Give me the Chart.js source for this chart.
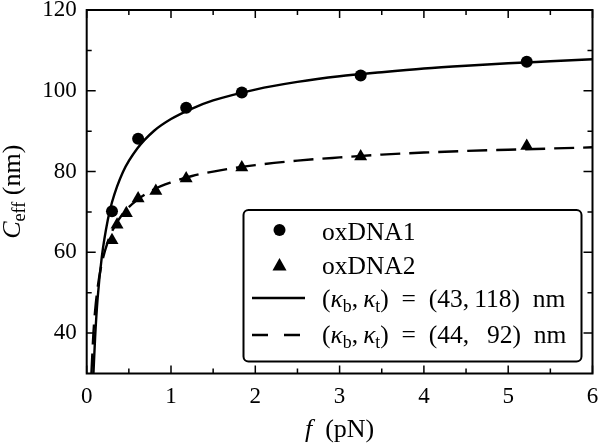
<!DOCTYPE html>
<html>
<head>
<meta charset="utf-8">
<script src="https://cdn.jsdelivr.net/npm/chart.js@4.4.1/dist/chart.umd.min.js"></script>
<style>
  html, body { margin: 0; padding: 0; background: #fff; }
  #wrap { width: 600px; height: 443px; }
</style>
</head>
<body>
<div id="wrap"><canvas id="ceffChart"></canvas></div>
<script>
// simulation points
const forceOx1 = [0.30, 0.61, 1.18, 1.84, 3.25, 5.22];
const ceffOx1  = [70.2, 88.1, 95.8, 99.6, 103.8, 107.2];
const forceOx2 = [0.30, 0.36, 0.47, 0.61, 0.82, 1.18, 1.84, 3.25, 5.22];
const ceffOx2  = [63.0, 66.8, 69.7, 73.3, 75.2, 78.3, 81.0, 83.7, 86.3];

// fitted curves, sampled from the figure
const fitForce1 = [0.08, 0.1, 0.13, 0.18, 0.25, 0.3, 0.43, 0.6, 0.8, 1.0, 1.25, 1.5, 2, 2.5, 3, 3.5, 4, 4.5, 5, 5.5, 6];
const fitCeff1  = [30, 39, 48.7, 59, 68, 72.4, 79.9, 85.7, 90.1, 93, 95.6, 97.6, 100.3, 102.2, 103.6, 104.6, 105.5, 106.2, 106.8, 107.3, 107.8];
const fitForce2 = [0.056, 0.08, 0.1, 0.13, 0.18, 0.25, 0.3, 0.43, 0.6, 0.8, 1.0, 1.25, 1.5, 2, 2.5, 3, 3.5, 4, 4.5, 5, 5.5, 6];
const fitCeff2  = [30, 40.1, 45.6, 51.3, 57.4, 62.6, 65.2, 69.6, 73, 75.6, 77.3, 78.9, 80, 81.6, 82.7, 83.5, 84.2, 84.7, 85.1, 85.4, 85.7, 86];

// axis ticks
const xTicks = [0, 1, 2, 3, 4, 5, 6];
const xMinor = [0.5, 1.5, 2.5, 3.5, 4.5, 5.5];
const yTicks = [40, 60, 80, 100, 120];
const yMinor = [50, 70, 90, 110];

const SERIF = "'Liberation Serif', 'DejaVu Serif', serif";

function pts(xs, ys) {
  return xs.map((v, i) => ({ x: v, y: ys[i] }));
}

// text with italic / subscript pieces: [text, 'r'|'i'|'s']
function richWidth(ctx, parts, size) {
  let w = 0;
  for (const [t, s] of parts) {
    ctx.font = (s === 'i' ? 'italic ' : '') + (s === 's' ? size * 0.7 : size) + 'px ' + SERIF;
    w += ctx.measureText(t).width;
  }
  return w;
}
function drawRich(ctx, parts, x, y, size) {
  for (const [t, s] of parts) {
    ctx.font = (s === 'i' ? 'italic ' : '') + (s === 's' ? size * 0.7 : size) + 'px ' + SERIF;
    ctx.fillText(t, x, s === 's' ? y + size * 0.2 : y);
    x += ctx.measureText(t).width;
  }
  return x;
}

// matplotlib-ish frame with inward ticks on all four sides
const frameTicks = {
  id: 'frameTicks',
  afterDatasetsDraw(chart) {
    const { ctx, chartArea: a, scales: { x, y } } = chart;
    ctx.save();
    ctx.strokeStyle = '#000';
    ctx.lineWidth = 1.5;
    ctx.beginPath();
    const xt = (vals, len) => vals.forEach(v => {
      const px = x.getPixelForValue(v);
      ctx.moveTo(px, a.bottom); ctx.lineTo(px, a.bottom - len);
      ctx.moveTo(px, a.top); ctx.lineTo(px, a.top + len);
    });
    const yt = (vals, len) => vals.forEach(v => {
      const py = y.getPixelForValue(v);
      ctx.moveTo(a.left, py); ctx.lineTo(a.left + len, py);
      ctx.moveTo(a.right, py); ctx.lineTo(a.right - len, py);
    });
    xt(xTicks, 8); xt(xMinor, 5);
    yt(yTicks, 9); yt(yMinor, 5);
    ctx.stroke();
    ctx.lineWidth = 2;
    ctx.strokeRect(a.left, a.top, a.right - a.left, a.bottom - a.top);
    ctx.restore();
  },
  afterDraw(chart) {
    const { ctx, chartArea: a } = chart;
    ctx.save();
    ctx.fillStyle = '#000';
    ctx.textBaseline = 'alphabetic';

    // axis titles
    const xTitle = [['f', 'i'], ['\u2002(pN)', 'r']];
    const xw = richWidth(ctx, xTitle, 26);
    drawRich(ctx, xTitle, (a.left + a.right) / 2 - xw / 2, 437, 26);

    const yTitle = [['C', 'i'], ['eff', 's'], [' (nm)', 'r']];
    const yw = richWidth(ctx, yTitle, 26);
    ctx.translate(0, (a.top + a.bottom) / 2);
    ctx.rotate(-Math.PI / 2);
    drawRich(ctx, yTitle, -yw / 2, 20, 26);
    ctx.setTransform(1, 0, 0, 1, 0, 0);

    // legend box
    ctx.fillStyle = '#fff';
    ctx.strokeStyle = '#000';
    ctx.lineWidth = 2;
    ctx.beginPath();
    ctx.roundRect(243.5, 210, 338, 151.5, 5);
    ctx.fill();
    ctx.stroke();

    ctx.fillStyle = '#000';
    ctx.beginPath();
    ctx.arc(279.5, 230, 6, 0, Math.PI * 2);
    ctx.fill();
    ctx.beginPath();
    ctx.moveTo(279.5, 258); ctx.lineTo(286.5, 270.5); ctx.lineTo(272.5, 270.5);
    ctx.closePath();
    ctx.fill();
    ctx.lineWidth = 2.4;
    ctx.beginPath();
    ctx.moveTo(252, 298); ctx.lineTo(305, 298);
    ctx.stroke();
    ctx.setLineDash([16, 16]);
    ctx.beginPath();
    ctx.moveTo(252, 335); ctx.lineTo(300, 335);
    ctx.stroke();
    ctx.setLineDash([]);

    const tx = 322, fs = 25.5;
    drawRich(ctx, [['oxDNA1', 'r']], tx, 240, fs);
    drawRich(ctx, [['oxDNA2', 'r']], tx, 273.5, fs);
    drawRich(ctx, [['(', 'r'], ['\u03BA', 'i'], ['b', 's'], [',\u2009', 'r'], ['\u03BA', 'i'], ['t', 's'],
                   [')\u2002=\u2002(43,\u2009118)\u2002nm', 'r']], tx, 307, fs);
    drawRich(ctx, [['(', 'r'], ['\u03BA', 'i'], ['b', 's'], [',\u2009', 'r'], ['\u03BA', 'i'], ['t', 's'],
                   [')\u2002=\u2002(44,\u2009\u200792)\u2002nm', 'r']], tx, 343, fs);
    ctx.restore();
  }
};

new Chart(document.getElementById('ceffChart'), {
  type: 'scatter',
  data: {
    datasets: [
      {
        label: 'oxDNA1',
        data: pts(forceOx1, ceffOx1),
        pointStyle: 'circle',
        pointRadius: 6,
        backgroundColor: '#000',
        borderColor: '#000',
        borderWidth: 0
      },
      {
        label: 'oxDNA2',
        data: pts(forceOx2, ceffOx2),
        pointStyle: 'triangle',
        pointRadius: 7.5,
        backgroundColor: '#000',
        borderColor: '#000',
        borderWidth: 0
      },
      {
        label: '(43, 118) nm',
        data: pts(fitForce1, fitCeff1),
        showLine: true,
        pointRadius: 0,
        borderColor: '#000',
        borderWidth: 2.4,
        cubicInterpolationMode: 'monotone'
      },
      {
        label: '(44, 92) nm',
        data: pts(fitForce2, fitCeff2),
        showLine: true,
        pointRadius: 0,
        borderColor: '#000',
        borderWidth: 2.4,
        borderDash: [20, 9],
        cubicInterpolationMode: 'monotone'
      }
    ]
  },
  options: {
    responsive: true,
    maintainAspectRatio: false,
    animation: false,
    layout: { padding: { top: 10, right: 3.3, left: 0, bottom: 0 } },
    plugins: {
      legend: { display: false },
      tooltip: { enabled: false }
    },
    scales: {
      x: {
        type: 'linear',
        min: 0,
        max: 6,
        grid: { display: false, drawTicks: false },
        border: { display: false },
        afterBuildTicks: s => { s.ticks = xTicks.map(v => ({ value: v })); },
        afterFit: s => { s.height = 69.5; s.paddingLeft = 0; s.paddingRight = 0; },
        ticks: { font: { family: SERIF, size: 23 }, color: '#000', padding: 10, maxRotation: 0 }
      },
      y: {
        min: 30,
        max: 120,
        grid: { display: false, drawTicks: false },
        border: { display: false },
        afterBuildTicks: s => { s.ticks = yTicks.map(v => ({ value: v })); },
        afterFit: s => { s.width = 86.7; s.paddingTop = 0; s.paddingBottom = 0; },
        ticks: { font: { family: SERIF, size: 23 }, color: '#000', padding: 10 }
      }
    }
  },
  plugins: [frameTicks]
});
</script>
</body>
</html>
